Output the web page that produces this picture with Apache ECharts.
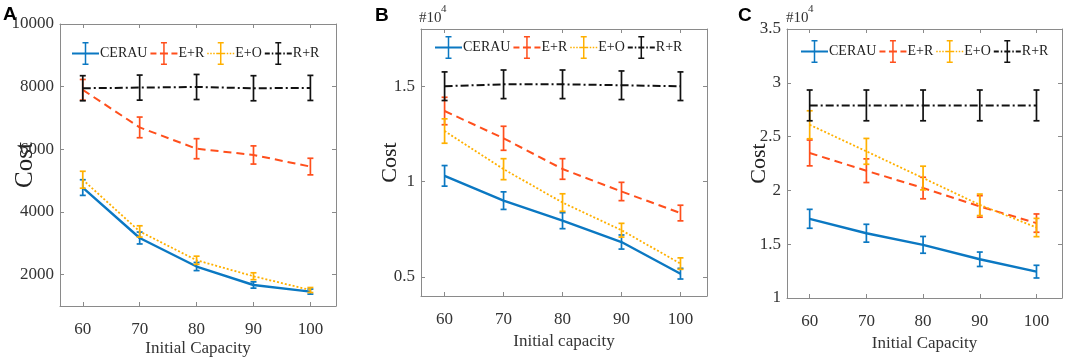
<!DOCTYPE html>
<html lang="en">
<head>
<meta charset="UTF-8">
<title>Cost vs initial capacity</title>
<style>
    * { margin: 0; padding: 0; }
    #chart { width: 1065px; height: 363px; background: #fff; }
</style>
<script src="https://cdn.jsdelivr.net/npm/echarts@6/dist/echarts.min.js"></script>
</head>
<body>
<div id="chart"></div>
<script>
var capacity = [60, 70, 80, 90, 100];
var names = ['CERAU', 'E+R', 'E+O', 'R+R'];

// panel A, cost
var aCerau = [4780, 3170, 2260, 1670, 1460];
var aCerauErr = [250, 190, 130, 100, 80];
var aER = [7900, 6700, 6020, 5820, 5450];
var aERErr = [330, 330, 320, 290, 265];
var aEO = [5030, 3380, 2460, 1950, 1510];
var aEOErr = [270, 180, 130, 110, 80];
var aRR = [7950, 7970, 7990, 7950, 7960];
var aRRErr = [400, 400, 400, 400, 400];

// panel B, cost x 10^4
var bCerau = [1.03, 0.9, 0.795, 0.683, 0.517];
var bCerauErr = [0.054, 0.046, 0.042, 0.037, 0.028];
var bER = [1.37, 1.227, 1.066, 0.948, 0.835];
var bERErr = [0.072, 0.063, 0.054, 0.048, 0.041];
var bEO = [1.265, 1.065, 0.89, 0.745, 0.57];
var bEOErr = [0.064, 0.055, 0.046, 0.036, 0.03];
var bRR = [1.5, 1.51, 1.51, 1.505, 1.5];
var bRRErr = [0.075, 0.075, 0.075, 0.075, 0.075];

// panel C, cost x 10^4
var cCerau = [1.736, 1.602, 1.494, 1.36, 1.245];
var cCerauErr = [0.088, 0.083, 0.078, 0.067, 0.059];
var cER = [2.348, 2.183, 2.022, 1.851, 1.696];
var cERErr = [0.12, 0.11, 0.1, 0.1, 0.085];
var cEO = [2.61, 2.363, 2.115, 1.866, 1.655];
var cEOErr = [0.13, 0.12, 0.11, 0.1, 0.085];
var cRR = [2.79, 2.79, 2.79, 2.79, 2.79];
var cRRErr = [0.143, 0.143, 0.143, 0.143, 0.143];

// tick labels
var xTicks = [60, 70, 80, 90, 100];
var aYTicks = [2000, 4000, 6000, 8000, 10000];
var bYTicks = [0.5, 1, 1.5];
var cYTicks = [1, 1.5, 2, 2.5, 3, 3.5];

var panels = [
    { vals: [aCerau, aER, aEO, aRR], errs: [aCerauErr, aERErr, aEOErr, aRRErr], yMin: 1000, yMax: 10000, yTicks: aYTicks,
      grid: { left: 60, right: 729, top: 24, bottom: 57 }, xName: 'Initial Capacity', yNameGap: 22, yNameSize: 25,
      legend: { left: 72, top: 42 } },
    { vals: [bCerau, bER, bEO, bRR], errs: [bCerauErr, bERErr, bEOErr, bRRErr], yMin: 0.4, yMax: 1.8, yTicks: bYTicks,
      grid: { left: 421, right: 358, top: 29, bottom: 67 }, xName: 'Initial capacity', yNameGap: 20, yNameSize: 22,
      legend: { left: 435, top: 36 } },
    { vals: [cCerau, cER, cEO, cRR], errs: [cCerauErr, cERErr, cEOErr, cRRErr], yMin: 1, yMax: 3.5, yTicks: cYTicks,
      grid: { left: 787, right: 3, top: 29, bottom: 65 }, xName: 'Initial Capacity', yNameGap: 17, yNameSize: 22,
      legend: { left: 801, top: 40 } }
];

var colors = ['#0b78c2', '#ff4f1c', '#ffb000', '#111111'];
var lineTypes = ['solid', [8, 5], [2, 2], [8, 3, 2, 3]];
var lineWidths = [2.4, 2, 1.8, 2];
// legend icons: line (with its dash pattern) plus an error bar, 27x23
var beam = 'M10.5,0H16.5V1.5H14.25V21.5H16.5V23H10.5V21.5H12.75V1.5H10.5Z';
var icons = [
    'path://M0,10.5H27V12.5H0Z ' + beam,
    'path://M0,10.5H6V12.5H0Z M9.5,10.5H17.5V12.5H9.5Z M21,10.5H27V12.5H21Z ' + beam,
    'path://M0,10.75H1.5V12.25H0Z M3,10.75H4.5V12.25H3Z M6,10.75H7.5V12.25H6Z M9,10.75H18V12.25H9Z M19.5,10.75H21V12.25H19.5Z M22.5,10.75H24V12.25H22.5Z M25.5,10.75H27V12.25H25.5Z ' + beam,
    'path://M0,10.5H5V12.5H0Z M7,10.5H8.5V12.5H7Z M10.5,10.5H16.5V12.5H10.5Z M18.5,10.5H20V12.5H18.5Z M22,10.5H27V12.5H22Z ' + beam
];

var axisGray = '#8a8a8a';
var labelColor = '#333';
var serif = 'Liberation Serif';

var chart = echarts.init(document.getElementById('chart'));

var grids = [], xAxes = [], yAxes = [], series = [], legends = [];

panels.forEach(function (p, i) {
    grids.push({ left: p.grid.left, right: p.grid.right, top: p.grid.top, bottom: p.grid.bottom, containLabel: false });
    xAxes.push({
        type: 'value', gridIndex: i, min: 56, max: 104.5, position: 'bottom',
        name: p.xName, nameLocation: 'middle', nameGap: i === 0 ? 34 : 37, nameMoveOverlap: false,
        nameTextStyle: { fontFamily: serif, fontSize: 17, color: labelColor },
        axisLine: { lineStyle: { color: axisGray, width: 1 } },
        axisTick: { inside: true, length: 4, customValues: xTicks, lineStyle: { color: axisGray } },
        axisLabel: { customValues: xTicks, margin: 15, fontFamily: serif, fontSize: 17, color: labelColor },
        splitLine: { show: false }
    });
    yAxes.push({
        type: 'value', gridIndex: i, min: p.yMin, max: p.yMax, position: 'left',
        name: 'Cost', nameLocation: 'middle', nameGap: p.yNameGap, nameRotate: 90, nameMoveOverlap: false,
        nameTextStyle: { fontFamily: serif, fontSize: p.yNameSize, color: '#222' },
        axisLine: { show: true, lineStyle: { color: axisGray, width: 1 } },
        axisTick: { show: true, inside: true, length: 4, customValues: p.yTicks, lineStyle: { color: axisGray } },
        axisLabel: {
            customValues: p.yTicks, margin: 6, fontFamily: serif, fontSize: 17, color: labelColor,
            formatter: function (v) { return String(v); }
        },
        splitLine: { show: false }
    });

    p.vals.forEach(function (vals, k) {
        series.push({
            type: 'line', name: names[k], xAxisIndex: i, yAxisIndex: i,
            data: capacity.map(function (c, j) { return [c, vals[j]]; }),
            symbol: 'none', showSymbol: false, z: 2 + k, silent: true,
            lineStyle: { color: colors[k], width: lineWidths[k], type: lineTypes[k] },
            itemStyle: { color: colors[k], borderWidth: 0 }
        });
        series.push(errorBars(i, k, vals, p.errs[k]));
    });

    legends.push({
        left: p.legend.left, top: p.legend.top, padding: 0, orient: 'horizontal',
        itemWidth: 27, itemHeight: 23, itemGap: 3, selectedMode: false,
        textStyle: { fontFamily: serif, fontSize: 14, color: '#222', padding: [0, 0, 0, -4] },
        data: names.map(function (n, k) {
            return { name: n, icon: icons[k], itemStyle: { color: colors[k], borderWidth: 0 } };
        })
    });
});

// mirror axes for the box (MATLAB "box on")
panels.forEach(function (p, i) {
    xAxes.push({
        type: 'value', gridIndex: i, min: 56, max: 104.5, position: 'top',
        axisLine: { lineStyle: { color: axisGray, width: 1 } },
        axisTick: { inside: true, length: 4, customValues: xTicks, lineStyle: { color: axisGray } },
        axisLabel: { show: false }, splitLine: { show: false }
    });
    yAxes.push({
        type: 'value', gridIndex: i, min: p.yMin, max: p.yMax, position: 'right',
        axisLine: { show: true, lineStyle: { color: axisGray, width: 1 } },
        axisTick: { show: true, inside: true, length: 4, customValues: p.yTicks, lineStyle: { color: axisGray } },
        axisLabel: { show: false }, splitLine: { show: false }
    });
});

function errorBars(i, k, vals, errs) {
    return {
        type: 'custom', xAxisIndex: i, yAxisIndex: i, z: 2 + k, silent: true,
        data: capacity.map(function (c, j) { return [c, vals[j], errs[j]]; }),
        encode: { x: 0, y: 1 },
        renderItem: function (params, api) {
            var x = api.value(0), y = api.value(1), e = api.value(2);
            var lo = api.coord([x, y - e]);
            var hi = api.coord([x, y + e]);
            var w = 3;
            var st = { stroke: colors[k], lineWidth: 1.7 };
            return {
                type: 'group',
                children: [
                    { type: 'line', shape: { x1: lo[0], y1: lo[1], x2: hi[0], y2: hi[1] }, style: st },
                    { type: 'line', shape: { x1: lo[0] - w, y1: lo[1], x2: lo[0] + w, y2: lo[1] }, style: st },
                    { type: 'line', shape: { x1: hi[0] - w, y1: hi[1], x2: hi[0] + w, y2: hi[1] }, style: st }
                ]
            };
        }
    };
}

var letterStyle = { fontFamily: 'Liberation Sans', fontWeight: 'bold', fontSize: 19, color: '#000' };

var option = {
    backgroundColor: '#fff',
    animation: false,
    title: [
        { text: 'A', left: 3, top: 5, padding: 0, textStyle: letterStyle },
        { text: 'B', left: 375, top: 6, padding: 0, textStyle: letterStyle },
        { text: 'C', left: 738, top: 6, padding: 0, textStyle: letterStyle }
    ],
    graphic: [
        { type: 'text', left: 419, top: 11, style: { text: '#10', fontFamily: serif, fontSize: 15, fill: '#333' } },
        { type: 'text', left: 441, top: 4, style: { text: '4', fontFamily: serif, fontSize: 11, fill: '#333' } },
        { type: 'text', left: 786, top: 11, style: { text: '#10', fontFamily: serif, fontSize: 15, fill: '#333' } },
        { type: 'text', left: 808, top: 4, style: { text: '4', fontFamily: serif, fontSize: 11, fill: '#333' } }
    ],
    legend: legends,
    grid: grids,
    xAxis: xAxes,
    yAxis: yAxes,
    series: series
};

chart.setOption(option);
</script>
</body>
</html>
